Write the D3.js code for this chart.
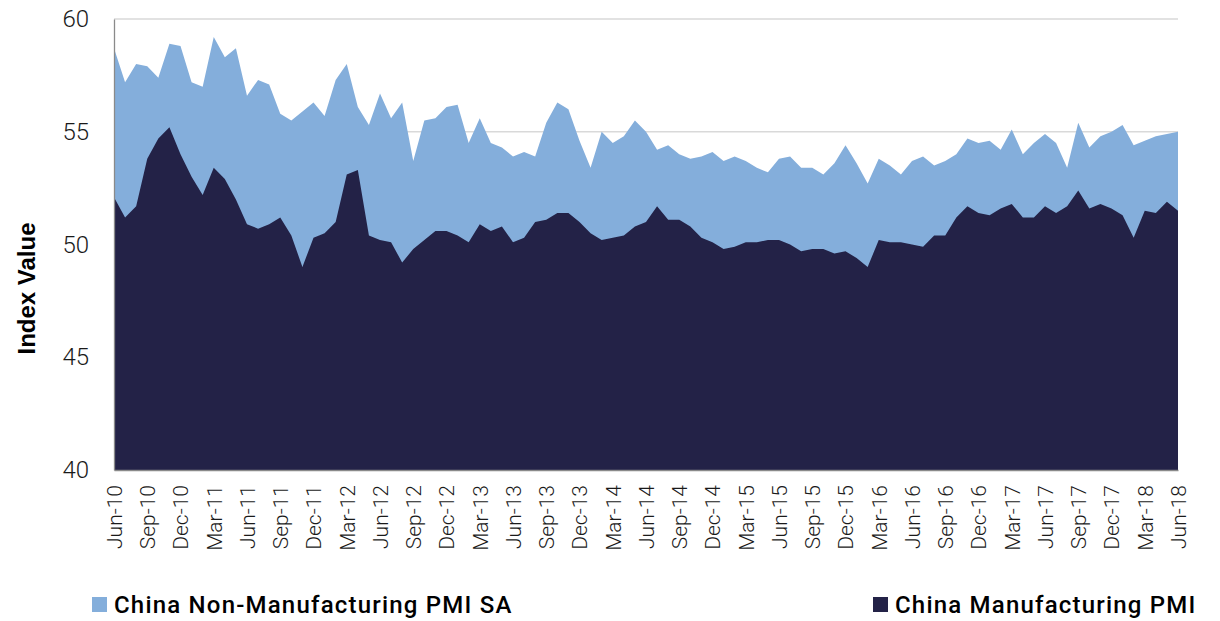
<!DOCTYPE html>
<html lang="en">
<head>
<meta charset="utf-8">
<script src="https://d3js.org/d3.v7.min.js"></script>
<title>China PMI</title>
<style>
  body { margin: 0; background: #fff; }
  text { font-family: Roboto, "DejaVu Sans", sans-serif; }
</style>
</head>
<body>
<div id="container"></div>
<script>
// monthly, Jun-10 .. Jun-18
const startMonth = new Date(2010, 5, 1);
const months = d3.timeMonth.range(startMonth, new Date(2018, 6, 1));

const nonMfg = [58.7, 57.2, 58.0, 57.9, 57.4, 58.9, 58.8, 57.2, 57.0, 59.2, 58.3, 58.7,
  56.6, 57.3, 57.1, 55.8, 55.5, 55.9, 56.3, 55.7, 57.3, 58.0, 56.1, 55.3,
  56.7, 55.6, 56.3, 53.7, 55.5, 55.6, 56.1, 56.2, 54.5, 55.6, 54.5, 54.3,
  53.9, 54.1, 53.9, 55.4, 56.3, 56.0, 54.6, 53.4, 55.0, 54.5, 54.8, 55.5,
  55.0, 54.2, 54.4, 54.0, 53.8, 53.9, 54.1, 53.7, 53.9, 53.7, 53.4, 53.2,
  53.8, 53.9, 53.4, 53.4, 53.1, 53.6, 54.4, 53.6, 52.7, 53.8, 53.5, 53.1,
  53.7, 53.9, 53.5, 53.7, 54.0, 54.7, 54.5, 54.6, 54.2, 55.1, 54.0, 54.5,
  54.9, 54.5, 53.4, 55.4, 54.3, 54.8, 55.0, 55.3, 54.4, 54.6, 54.8, 54.9, 55.0];

const mfg = [52.1, 51.2, 51.7, 53.8, 54.7, 55.2, 54.0, 53.0, 52.2, 53.4, 52.9, 52.0,
  50.9, 50.7, 50.9, 51.2, 50.4, 49.0, 50.3, 50.5, 51.0, 53.1, 53.3, 50.4,
  50.2, 50.1, 49.2, 49.8, 50.2, 50.6, 50.6, 50.4, 50.1, 50.9, 50.6, 50.8,
  50.1, 50.3, 51.0, 51.1, 51.4, 51.4, 51.0, 50.5, 50.2, 50.3, 50.4, 50.8,
  51.0, 51.7, 51.1, 51.1, 50.8, 50.3, 50.1, 49.8, 49.9, 50.1, 50.1, 50.2,
  50.2, 50.0, 49.7, 49.8, 49.8, 49.6, 49.7, 49.4, 49.0, 50.2, 50.1, 50.1,
  50.0, 49.9, 50.4, 50.4, 51.2, 51.7, 51.4, 51.3, 51.6, 51.8, 51.2, 51.2,
  51.7, 51.4, 51.7, 52.4, 51.6, 51.8, 51.6, 51.3, 50.3, 51.5, 51.4, 51.9, 51.5];

const yTicks = [40, 45, 50, 55, 60];
const seriesNames = ["China Non-Manufacturing PMI SA", "China Manufacturing PMI"];
const colors = ["#84aedb", "#232247"];

const W = 1220, H = 621;
const margin = {left: 114, top: 19, right: 42, bottom: 151};
const w = W - margin.left - margin.right;
const h = H - margin.top - margin.bottom;

const svg = d3.select("#container").append("svg").attr("width", W).attr("height", H);
const g = svg.append("g").attr("transform", "translate(" + margin.left + "," + margin.top + ")");

const x = d3.scaleLinear().domain([0, months.length - 1]).range([0, w]);
const y = d3.scaleLinear().domain([40, 60]).range([h, 0]);

// grid
g.append("g").selectAll("line").data(yTicks.filter(d => d > 40)).join("line")
  .attr("x1", 0).attr("x2", w)
  .attr("y1", d => y(d)).attr("y2", d => y(d))
  .attr("stroke", "#d9d9d9").attr("stroke-width", 1.3);

const area = vals => d3.area().x((d, i) => x(i)).y0(y(40)).y1(d => y(d))(vals);

g.append("path").attr("d", area(nonMfg)).attr("fill", colors[0]);
g.append("path").attr("d", area(mfg)).attr("fill", colors[1]);

// y axis
const yAxis = g.append("g").call(d3.axisLeft(y).tickValues(yTicks).tickSize(0).tickPadding(25));
yAxis.select(".domain").attr("stroke", "#8a8a8a").attr("stroke-width", 1.3);
yAxis.selectAll("text").style("font-size", "24px").style("font-weight", 300).attr("fill", "#1a1a1a");

// x axis
const fmt = d3.timeFormat("%b-%y");
const xAxis = g.append("g").attr("transform", "translate(0," + h + ")")
  .call(d3.axisBottom(x).tickValues(d3.range(0, months.length, 3)).tickFormat(i => fmt(months[i])).tickSize(0));
xAxis.select(".domain").attr("stroke", "#8a8a8a").attr("stroke-width", 1.3);
xAxis.selectAll("text")
  .attr("transform", "rotate(-90)")
  .attr("x", -15).attr("y", 0).attr("dy", "0.35em")
  .attr("text-anchor", "end")
  .style("font-size", "21px").style("font-weight", 300).attr("fill", "#1a1a1a");

// axis title
svg.append("text")
  .attr("transform", "translate(35," + (margin.top + h / 2 + 44) + ") rotate(-90)")
  .attr("text-anchor", "middle")
  .style("font-family", "'Liberation Sans', Arial, sans-serif")
  .style("font-size", "24px").style("font-weight", "bold")
  .text("Index Value");

// legend
const legendX = [92, 873];
const legend = svg.append("g").selectAll("g").data(seriesNames).join("g")
  .attr("transform", (d, i) => "translate(" + legendX[i] + ",597)");
legend.append("rect").attr("width", 15).attr("height", 15).attr("fill", (d, i) => colors[i]);
legend.append("text").attr("x", 22).attr("y", 16)
  .style("font-size", "24px").style("font-weight", 500).style("letter-spacing", "1.2px")
  .attr("fill", "#000")
  .text(d => d);
</script>
</body>
</html>
